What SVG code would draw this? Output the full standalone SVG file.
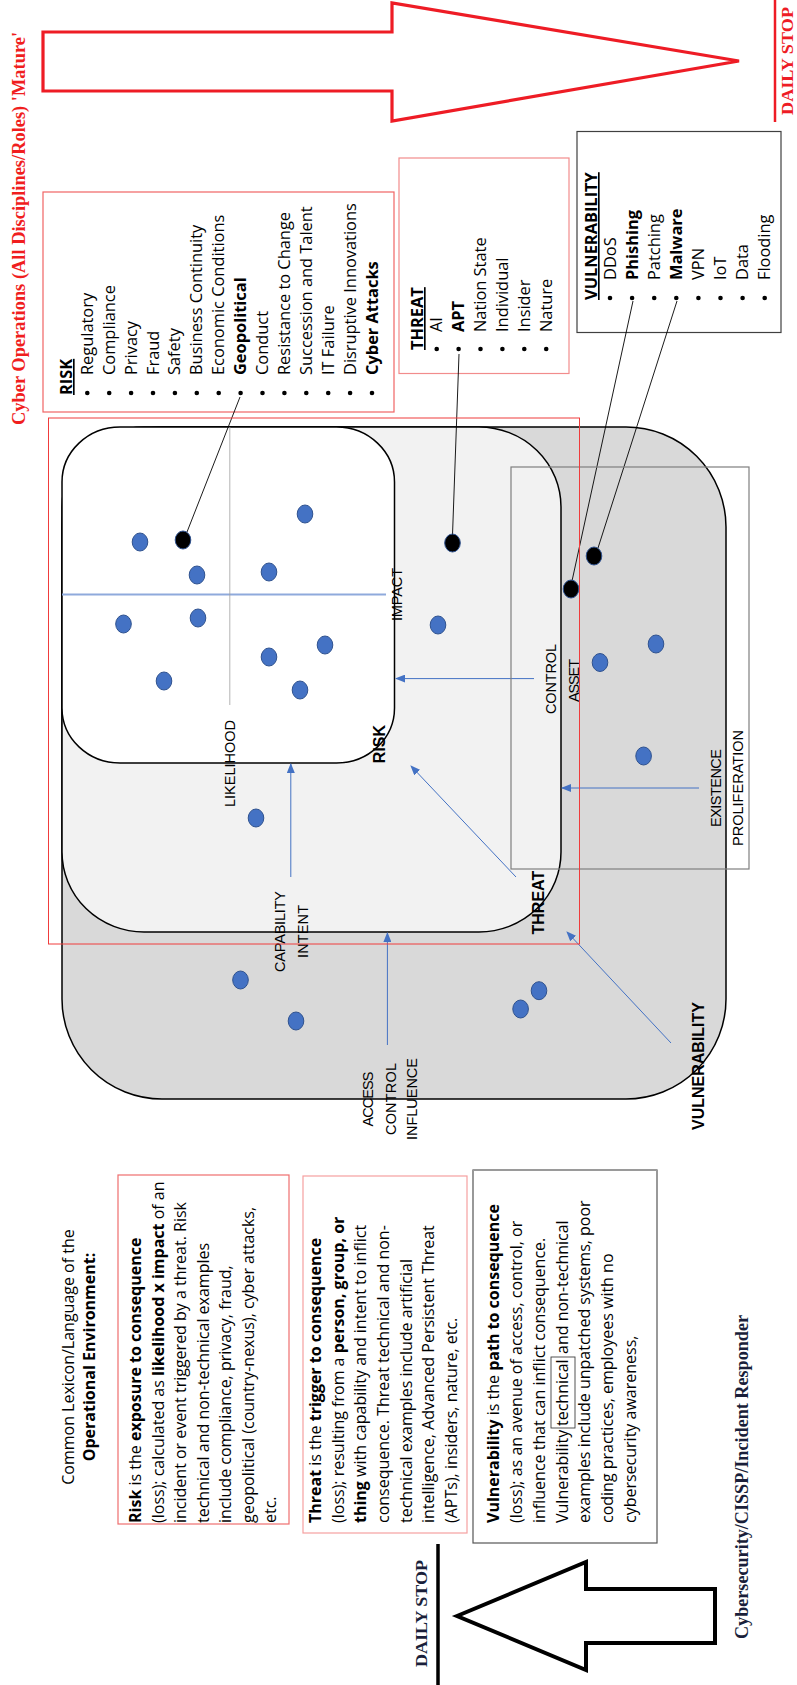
<svg xmlns="http://www.w3.org/2000/svg" width="797" height="1685" viewBox="0 0 797 1685">
<style>
.sans{font-family:"Open Sans","Noto Sans",sans-serif;font-size:16px;fill:#000}
.li{font-size:16.4px}
.b{font-weight:bold}
.lbl{font-family:"Liberation Sans",Arial,sans-serif;font-size:14.5px;fill:#000;text-anchor:middle}
.lblb{font-family:"Liberation Sans",Arial,sans-serif;font-size:16px;font-weight:bold;fill:#000;text-anchor:middle}
.serif{font-family:"Liberation Serif","Times New Roman",serif;font-weight:bold}
.dot{fill:#4472c4;stroke:#2f528f;stroke-width:1}
.bdot{fill:#000;stroke:#2f528f;stroke-width:1}
.lead{stroke:#000;stroke-width:0.9;fill:none}
.conn{stroke:#4472c4;stroke-width:1;fill:none;marker-end:url(#ah)}
.redbox{fill:none;stroke:#f06464;stroke-width:1.2}
.bul{fill:#000}
</style>
<defs>
<marker id="ah" markerWidth="10" markerHeight="8" refX="9" refY="4" orient="auto" markerUnits="userSpaceOnUse"><path d="M0,0 L10,4 L0,8 z" fill="#4472c4"/></marker>
</defs>
<rect width="797" height="1685" fill="#fff"/>

<!-- Title and top arrow -->
<g id="title">
<text class="serif" font-size="18" fill="#f01e1e" transform="translate(0,1685) rotate(-90)" x="1260" y="24.5" textLength="393" lengthAdjust="spacingAndGlyphs">Cyber Operations (All Disciplines/Roles) 'Mature'</text>
</g>
<g id="top-arrow">
<polygon points="43,32 392,32 392,3 739,61 392,121 392,91 43,91" fill="#fff" stroke="#ee1c25" stroke-width="3.2" stroke-linejoin="miter"/>
</g>
<g id="daily-stop-top">
<line x1="775" y1="0" x2="775" y2="122" stroke="#ee1c25" stroke-width="2.5"/>
<text class="serif" font-size="17.6" fill="#ee1c25" transform="translate(0,1685) rotate(-90)" x="1570" y="793" textLength="108" lengthAdjust="spacingAndGlyphs">DAILY STOP</text>
</g>

<!-- RISK list -->
<g id="risk-list">
<rect class="redbox" x="43" y="192" width="351" height="220"/>
<g transform="translate(0,1685) rotate(-90)">
<text class="sans li b" x="1290" y="72" text-decoration="underline">RISK</text>
<g class="bul">
<circle cx="1292" cy="87.3" r="2.3"/><circle cx="1292" cy="109.2" r="2.3"/><circle cx="1292" cy="131.1" r="2.3"/><circle cx="1292" cy="153" r="2.3"/><circle cx="1292" cy="174.9" r="2.3"/><circle cx="1292" cy="196.8" r="2.3"/><circle cx="1292" cy="218.7" r="2.3"/><circle cx="1292" cy="240.6" r="2.3"/><circle cx="1292" cy="262.5" r="2.3"/><circle cx="1292" cy="284.4" r="2.3"/><circle cx="1292" cy="306.3" r="2.3"/><circle cx="1292" cy="328.2" r="2.3"/><circle cx="1292" cy="350.1" r="2.3"/><circle cx="1292" cy="372" r="2.3"/>
</g>
<text class="sans li" x="1310" y="92.8">Regulatory</text>
<text class="sans li" x="1310" y="114.7">Compliance</text>
<text class="sans li" x="1310" y="136.6">Privacy</text>
<text class="sans li" x="1310" y="158.5">Fraud</text>
<text class="sans li" x="1310" y="180.4">Safety</text>
<text class="sans li" x="1310" y="202.3">Business Continuity</text>
<text class="sans li" x="1310" y="224.2">Economic Conditions</text>
<text class="sans li b" x="1310" y="246.1">Geopolitical</text>
<text class="sans li" x="1310" y="268">Conduct</text>
<text class="sans li" x="1310" y="289.9">Resistance to Change</text>
<text class="sans li" x="1310" y="311.8">Succession and Talent</text>
<text class="sans li" x="1310" y="333.7">IT Failure</text>
<text class="sans li" x="1310" y="355.6">Disruptive Innovations</text>
<text class="sans li b" x="1310" y="377.5">Cyber Attacks</text>
</g>
</g>

<!-- THREAT list -->
<g id="threat-list">
<rect x="399" y="158" width="170" height="215.5" fill="none" stroke="#f28c8c" stroke-width="1.2"/>
<g transform="translate(0,1685) rotate(-90)">
<text class="sans li b" x="1335" y="423" text-decoration="underline">THREAT</text>
<g class="bul">
<circle cx="1336" cy="436.7" r="2.3"/><circle cx="1336" cy="458.6" r="2.3"/><circle cx="1336" cy="480.5" r="2.3"/><circle cx="1336" cy="502.4" r="2.3"/><circle cx="1336" cy="524.3" r="2.3"/><circle cx="1336" cy="546.2" r="2.3"/>
</g>
<text class="sans li" x="1353" y="442">AI</text>
<text class="sans li b" x="1353" y="463.9">APT</text>
<text class="sans li" x="1353" y="485.8">Nation State</text>
<text class="sans li" x="1353" y="507.7">Individual</text>
<text class="sans li" x="1353" y="529.6">Insider</text>
<text class="sans li" x="1353" y="551.5">Nature</text>
</g>
</g>

<!-- VULNERABILITY list -->
<g id="vulnerability-list">
<rect x="577" y="131.5" width="204" height="201" fill="none" stroke="#404040" stroke-width="1.2"/>
<g transform="translate(0,1685) rotate(-90)">
<text class="sans li b" x="1385" y="597" text-decoration="underline">VULNERABILITY</text>
<g class="bul">
<circle cx="1387" cy="610" r="2.3"/><circle cx="1387" cy="632.1" r="2.3"/><circle cx="1387" cy="654.2" r="2.3"/><circle cx="1387" cy="676.3" r="2.3"/><circle cx="1387" cy="698.4" r="2.3"/><circle cx="1387" cy="720.5" r="2.3"/><circle cx="1387" cy="742.6" r="2.3"/><circle cx="1387" cy="764.7" r="2.3"/>
</g>
<text class="sans li" x="1405" y="615.5">DDoS</text>
<text class="sans li b" x="1405" y="637.6">Phishing</text>
<text class="sans li" x="1405" y="659.7">Patching</text>
<text class="sans li b" x="1405" y="681.8">Malware</text>
<text class="sans li" x="1405" y="703.9">VPN</text>
<text class="sans li" x="1405" y="726">IoT</text>
<text class="sans li" x="1405" y="748.1">Data</text>
<text class="sans li" x="1405" y="770.2">Flooding</text>
</g>
</g>

<!-- Nested regions -->
<g id="vulnerability-region">
<rect x="62" y="427" width="664" height="672" rx="100" ry="100" fill="#d9d9d9" stroke="#000" stroke-width="1.5"/>
</g>
<g id="threat-region">
<rect x="62" y="427" width="499" height="505" rx="82" ry="80" fill="#f2f2f2" stroke="#000" stroke-width="1.5"/>
</g>
<g id="risk-region">
<rect x="62" y="427" width="332.5" height="336" rx="58" ry="55" fill="#fff" stroke="#000" stroke-width="1.5"/>
<line x1="62" y1="594.6" x2="386" y2="594.6" stroke="#8faadc" stroke-width="2"/>
<line x1="229.8" y1="427" x2="229.8" y2="705" stroke="#a0a0a0" stroke-width="0.8"/>
</g>

<!-- Connectors -->
<g id="connectors">
<line class="conn" x1="534" y1="678.6" x2="396" y2="678.6"/>
<line class="conn" x1="699" y1="788" x2="562" y2="788"/>
<line class="conn" x1="516" y1="877" x2="411" y2="766"/>
<line class="conn" x1="290.8" y1="877" x2="290.8" y2="764"/>
<line class="conn" x1="387.4" y1="1045" x2="387.4" y2="933"/>
<line class="conn" x1="671" y1="1043" x2="567" y2="932"/>
<line class="lead" x1="240" y1="397" x2="187" y2="532"/>
<line class="lead" x1="459" y1="354" x2="452.5" y2="535"/>
<line class="lead" x1="633" y1="301" x2="572" y2="581"/>
<line class="lead" x1="677" y1="301" x2="598" y2="548"/>
</g>

<!-- Dots -->
<g id="dots">
<ellipse class="dot" cx="305" cy="514" rx="7.8" ry="9"/>
<ellipse class="dot" cx="140" cy="542" rx="7.8" ry="9"/>
<ellipse class="dot" cx="197" cy="575" rx="7.8" ry="9"/>
<ellipse class="dot" cx="269" cy="572" rx="7.8" ry="9"/>
<ellipse class="dot" cx="123.5" cy="624" rx="7.8" ry="9"/>
<ellipse class="dot" cx="198" cy="618" rx="7.8" ry="9"/>
<ellipse class="dot" cx="325" cy="645" rx="7.8" ry="9"/>
<ellipse class="dot" cx="269" cy="657" rx="7.8" ry="9"/>
<ellipse class="dot" cx="164" cy="681" rx="7.8" ry="9"/>
<ellipse class="dot" cx="300" cy="690" rx="7.8" ry="9"/>
<ellipse class="dot" cx="438" cy="625" rx="7.8" ry="9"/>
<ellipse class="dot" cx="656" cy="644" rx="7.8" ry="9"/>
<ellipse class="dot" cx="600" cy="662.5" rx="7.8" ry="9"/>
<ellipse class="dot" cx="643.6" cy="756" rx="7.8" ry="9"/>
<ellipse class="dot" cx="256" cy="818" rx="7.8" ry="9"/>
<ellipse class="dot" cx="240.5" cy="980" rx="7.8" ry="9"/>
<ellipse class="dot" cx="296" cy="1021" rx="7.8" ry="9"/>
<ellipse class="dot" cx="539" cy="990.7" rx="7.8" ry="9"/>
<ellipse class="dot" cx="520.6" cy="1009" rx="7.8" ry="9"/>
<ellipse class="bdot" cx="183" cy="540" rx="7.8" ry="9"/>
<ellipse class="bdot" cx="452.5" cy="543" rx="7.8" ry="9"/>
<ellipse class="bdot" cx="571" cy="589" rx="7.8" ry="9"/>
<ellipse class="bdot" cx="594" cy="556" rx="7.8" ry="9"/>
</g>

<!-- Asset box -->
<g id="asset-box">
<rect x="511" y="467" width="238" height="402" fill="none" stroke="#7f7f7f" stroke-width="1.2"/>
</g>

<!-- Diagram labels -->
<g id="labels" transform="translate(0,1685) rotate(-90)">
<text class="lbl" x="921.5" y="235" textLength="87" lengthAdjust="spacing">LIKELIHOOD</text>
<text class="lbl" x="1090.5" y="401.5" textLength="53" lengthAdjust="spacing">IMPACT</text>
<text class="lblb" x="941" y="385">RISK</text>
<text class="lbl" x="1006" y="555.5" textLength="70" lengthAdjust="spacing">CONTROL</text>
<text class="lbl" x="1004.5" y="578.5" textLength="43" lengthAdjust="spacing">ASSET</text>
<text class="lbl" x="897" y="721" textLength="78" lengthAdjust="spacing">EXISTENCE</text>
<text class="lbl" x="897" y="743" textLength="116" lengthAdjust="spacing">PROLIFERATION</text>
<text class="lblb" x="782.4" y="544">THREAT</text>
<text class="lbl" x="753.5" y="284.7" textLength="81" lengthAdjust="spacing">CAPABILITY</text>
<text class="lbl" x="753.5" y="307.6" textLength="53" lengthAdjust="spacing">INTENT</text>
<text class="lbl" x="586" y="373" textLength="55" lengthAdjust="spacing">ACCESS</text>
<text class="lbl" x="586" y="395.5" textLength="72" lengthAdjust="spacing">CONTROL</text>
<text class="lbl" x="586" y="417" textLength="82" lengthAdjust="spacing">INFLUENCE</text>
<text class="lblb" x="619" y="704">VULNERABILITY</text>
</g>

<g id="frame">
<rect x="48.5" y="418" width="531" height="526" fill="none" stroke="#f03c3c" stroke-width="1"/>
</g>

<!-- Lexicon heading -->
<g id="lexicon-heading" transform="translate(0,1685) rotate(-90)">
<text class="sans" font-size="16.1" x="328" y="74" text-anchor="middle">Common Lexicon/Language of the</text>
<text class="sans b" font-size="16.1" x="328" y="95" text-anchor="middle">Operational Environment:</text>
</g>

<!-- Risk definition -->
<g id="risk-def">
<rect x="118" y="1175" width="171" height="349" fill="none" stroke="#ef6e6e" stroke-width="1.2"/>
<g transform="translate(0,1685) rotate(-90)">
<text class="sans" x="162" y="141"><tspan class="b">Risk</tspan> is the <tspan class="b">exposure to consequence</tspan></text>
<text class="sans" x="162" y="163.5">(loss); calculated as <tspan class="b">likelihood x impact</tspan> of an</text>
<text class="sans" x="162" y="186">incident or event triggered by a threat. Risk</text>
<text class="sans" x="162" y="208.5">technical and non-technical examples</text>
<text class="sans" x="162" y="231">include compliance, privacy, fraud,</text>
<text class="sans" x="162" y="253.5">geopolitical (country-nexus), cyber attacks,</text>
<text class="sans" x="162" y="276">etc.</text>
</g>
</g>

<!-- Threat definition -->
<g id="threat-def">
<rect x="303" y="1176" width="164" height="357" fill="none" stroke="#f5a0a0" stroke-width="1.2"/>
<g transform="translate(0,1685) rotate(-90)">
<text class="sans" x="162" y="321"><tspan class="b">Threat</tspan> is the <tspan class="b">trigger to consequence</tspan></text>
<text class="sans" x="162" y="343.7">(loss); resulting from a <tspan class="b">person, group, or</tspan></text>
<text class="sans" x="162" y="366.3"><tspan class="b">thing</tspan> with capability and intent to inflict</text>
<text class="sans" x="162" y="389">consequence. Threat technical and non-</text>
<text class="sans" x="162" y="411.7">technical examples include artificial</text>
<text class="sans" x="162" y="434.3">intelligence, Advanced Persistent Threat</text>
<text class="sans" x="162" y="457">(APTs), insiders, nature, etc.</text>
</g>
</g>

<!-- Vulnerability definition -->
<g id="vulnerability-def">
<rect x="473" y="1170" width="184" height="373" fill="none" stroke="#555" stroke-width="1.2"/>
<line x1="473" y1="1170" x2="657" y2="1170" stroke="#9a9a9a" stroke-width="2.2"/>
<rect x="551" y="1357" width="24" height="71" fill="none" stroke="#404040" stroke-width="0.9"/>
<g transform="translate(0,1685) rotate(-90)">
<text class="sans" x="162" y="499"><tspan class="b">Vulnerability</tspan> is the <tspan class="b">path to consequence</tspan></text>
<text class="sans" x="162" y="521.8">(loss); as an avenue of access, control, or</text>
<text class="sans" x="162" y="544.7">influence that can inflict consequence.</text>
<text class="sans" x="162" y="567.5">Vulnerability</text>
<text class="sans" x="259" y="567.5">technical</text>
<text class="sans" x="331" y="567.5">and non-technical</text>
<text class="sans" x="162" y="590.3">examples include unpatched systems, poor</text>
<text class="sans" x="162" y="613.2">coding practices, employees with no</text>
<text class="sans" x="162" y="636">cybersecurity awareness,</text>
</g>
</g>

<!-- Bottom arrow and footer -->
<g id="daily-stop-bottom">
<line x1="438" y1="1544" x2="438" y2="1685" stroke="#000" stroke-width="3.5"/>
<text class="serif" font-size="17.6" fill="#1a1f3a" transform="translate(0,1685) rotate(-90)" x="18" y="427" textLength="107" lengthAdjust="spacingAndGlyphs">DAILY STOP</text>
</g>
<g id="bottom-arrow">
<polygon points="457,1616 586,1562 586,1589 715,1589 715,1643 586,1643 586,1670" fill="#fff" stroke="#000" stroke-width="4" stroke-linejoin="miter"/>
</g>
<g id="footer">
<text class="serif" font-size="18" fill="#1a1f3a" transform="translate(0,1685) rotate(-90)" x="46" y="748" textLength="324" lengthAdjust="spacingAndGlyphs">Cybersecurity/CISSP/Incident Responder</text>
</g>
</svg>
